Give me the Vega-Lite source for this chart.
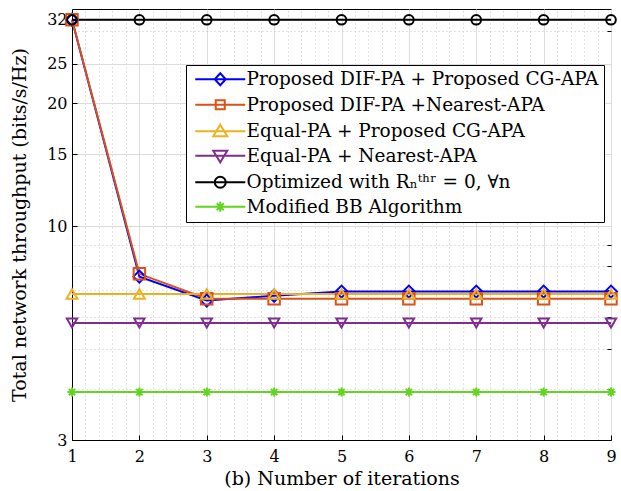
{
  "$schema": "https://vega.github.io/schema/vega-lite/v6.json",
  "width": 539,
  "height": 431,
  "autosize": "none",
  "padding": {"left": 72, "top": 9, "right": 10, "bottom": 51},
  "datasets": {
    "d": [
      {"it": 1, "series": "Proposed DIF-PA + Proposed CG-APA", "v": 32},
      {"it": 2, "series": "Proposed DIF-PA + Proposed CG-APA", "v": 7.53},
      {"it": 3, "series": "Proposed DIF-PA + Proposed CG-APA", "v": 6.58},
      {"it": 4, "series": "Proposed DIF-PA + Proposed CG-APA", "v": 6.76},
      {"it": 5, "series": "Proposed DIF-PA + Proposed CG-APA", "v": 6.92},
      {"it": 6, "series": "Proposed DIF-PA + Proposed CG-APA", "v": 6.92},
      {"it": 7, "series": "Proposed DIF-PA + Proposed CG-APA", "v": 6.92},
      {"it": 8, "series": "Proposed DIF-PA + Proposed CG-APA", "v": 6.92},
      {"it": 9, "series": "Proposed DIF-PA + Proposed CG-APA", "v": 6.92},
      {"it": 1, "series": "Proposed DIF-PA +Nearest-APA", "v": 32},
      {"it": 2, "series": "Proposed DIF-PA +Nearest-APA", "v": 7.65},
      {"it": 3, "series": "Proposed DIF-PA +Nearest-APA", "v": 6.65},
      {"it": 4, "series": "Proposed DIF-PA +Nearest-APA", "v": 6.65},
      {"it": 5, "series": "Proposed DIF-PA +Nearest-APA", "v": 6.65},
      {"it": 6, "series": "Proposed DIF-PA +Nearest-APA", "v": 6.65},
      {"it": 7, "series": "Proposed DIF-PA +Nearest-APA", "v": 6.65},
      {"it": 8, "series": "Proposed DIF-PA +Nearest-APA", "v": 6.65},
      {"it": 9, "series": "Proposed DIF-PA +Nearest-APA", "v": 6.65},
      {"it": 1, "series": "Equal-PA + Proposed CG-APA", "v": 6.83},
      {"it": 2, "series": "Equal-PA + Proposed CG-APA", "v": 6.83},
      {"it": 3, "series": "Equal-PA + Proposed CG-APA", "v": 6.83},
      {"it": 4, "series": "Equal-PA + Proposed CG-APA", "v": 6.83},
      {"it": 5, "series": "Equal-PA + Proposed CG-APA", "v": 6.83},
      {"it": 6, "series": "Equal-PA + Proposed CG-APA", "v": 6.83},
      {"it": 7, "series": "Equal-PA + Proposed CG-APA", "v": 6.83},
      {"it": 8, "series": "Equal-PA + Proposed CG-APA", "v": 6.83},
      {"it": 9, "series": "Equal-PA + Proposed CG-APA", "v": 6.83},
      {"it": 1, "series": "Equal-PA + Nearest-APA", "v": 5.8},
      {"it": 2, "series": "Equal-PA + Nearest-APA", "v": 5.8},
      {"it": 3, "series": "Equal-PA + Nearest-APA", "v": 5.8},
      {"it": 4, "series": "Equal-PA + Nearest-APA", "v": 5.8},
      {"it": 5, "series": "Equal-PA + Nearest-APA", "v": 5.8},
      {"it": 6, "series": "Equal-PA + Nearest-APA", "v": 5.8},
      {"it": 7, "series": "Equal-PA + Nearest-APA", "v": 5.8},
      {"it": 8, "series": "Equal-PA + Nearest-APA", "v": 5.8},
      {"it": 9, "series": "Equal-PA + Nearest-APA", "v": 5.8},
      {"it": 1, "series": "Optimized with Rₙᵗʰʳ = 0, ∀n", "v": 32},
      {"it": 2, "series": "Optimized with Rₙᵗʰʳ = 0, ∀n", "v": 32},
      {"it": 3, "series": "Optimized with Rₙᵗʰʳ = 0, ∀n", "v": 32},
      {"it": 4, "series": "Optimized with Rₙᵗʰʳ = 0, ∀n", "v": 32},
      {"it": 5, "series": "Optimized with Rₙᵗʰʳ = 0, ∀n", "v": 32},
      {"it": 6, "series": "Optimized with Rₙᵗʰʳ = 0, ∀n", "v": 32},
      {"it": 7, "series": "Optimized with Rₙᵗʰʳ = 0, ∀n", "v": 32},
      {"it": 8, "series": "Optimized with Rₙᵗʰʳ = 0, ∀n", "v": 32},
      {"it": 9, "series": "Optimized with Rₙᵗʰʳ = 0, ∀n", "v": 32},
      {"it": 1, "series": "Modified BB Algorithm", "v": 3.93},
      {"it": 2, "series": "Modified BB Algorithm", "v": 3.93},
      {"it": 3, "series": "Modified BB Algorithm", "v": 3.93},
      {"it": 4, "series": "Modified BB Algorithm", "v": 3.93},
      {"it": 5, "series": "Modified BB Algorithm", "v": 3.93},
      {"it": 6, "series": "Modified BB Algorithm", "v": 3.93},
      {"it": 7, "series": "Modified BB Algorithm", "v": 3.93},
      {"it": 8, "series": "Modified BB Algorithm", "v": 3.93},
      {"it": 9, "series": "Modified BB Algorithm", "v": 3.93}
    ]
  },
  "data": {"name": "d"},
  "config": {
    "font": "DejaVu Serif",
    "view": {"stroke": "black", "strokeWidth": 1},
    "axis": {
      "labelFont": "DejaVu Serif",
      "labelFontSize": 16,
      "labelColor": "black",
      "titleFont": "DejaVu Serif",
      "titleFontSize": 19,
      "titleFontWeight": "normal",
      "titleColor": "black",
      "domainColor": "black",
      "tickColor": "black",
      "labelFlush": false,
      "labelOverlap": false
    },
    "legend": {
      "orient": "none",
      "legendX": 114,
      "legendY": 56,
      "strokeColor": "black",
      "fillColor": "white",
      "padding": 5,
      "labelFont": "DejaVu Serif",
      "labelFontSize": 18.5,
      "labelColor": "black",
      "labelLimit": 0,
      "labelOffset": 37,
      "rowPadding": 5.5,
      "symbolStrokeWidth": 2,
      "symbolSize": 100
    }
  },
  "resolve": {
    "axis": {"x": "independent", "y": "independent"},
    "scale": {"color": "independent", "shape": "independent", "size": "independent"}
  },
  "layer": [
    {
      "transform": [{"filter": "false"}],
      "mark": {"type": "point", "opacity": 0},
      "encoding": {
        "x": {
          "field": "it", "type": "quantitative",
          "scale": {"domain": [1, 9], "nice": false, "zero": false},
          "axis": {
            "orient": "top",
            "values": [1.2, 1.4, 1.6, 1.8, 2.2, 2.4, 2.6, 2.8, 3.2, 3.4, 3.6, 3.8, 4.2, 4.4, 4.6, 4.8, 5.2, 5.4, 5.6, 5.8, 6.2, 6.4, 6.6, 6.8, 7.2, 7.4, 7.6, 7.8, 8.2, 8.4, 8.6, 8.8],
            "labels": false, "ticks": false, "domain": false,
            "grid": true, "gridColor": "#c4c4c4", "gridDash": [1, 3], "gridWidth": 1,
            "title": null
          }
        },
        "y": {
          "field": "v", "type": "quantitative",
          "scale": {"type": "log", "domain": [3, 34], "nice": false},
          "axis": {
            "orient": "right",
            "values": [4, 5, 6, 7, 8, 9, 30],
            "labels": false, "domain": false, "tickSize": -4,
            "grid": true, "gridColor": "#c4c4c4", "gridDash": [1, 3], "gridWidth": 1,
            "title": null
          }
        }
      }
    },
    {
      "mark": {"type": "line", "strokeWidth": 2},
      "encoding": {
        "x": {
          "field": "it", "type": "quantitative",
          "scale": {"domain": [1, 9], "nice": false, "zero": false},
          "axis": {
            "orient": "bottom",
            "values": [1, 2, 3, 4, 5, 6, 7, 8, 9],
            "format": "d",
            "labelOverlap": false,
            "labelFlush": false,
            "tickSize": -5,
            "grid": true,
            "gridColor": "#dcdcdc",
            "gridWidth": 1,
            "labelPadding": 13,
            "title": "(b) Number of iterations",
            "titlePadding": 5
          }
        },
        "y": {
          "field": "v", "type": "quantitative",
          "scale": {"type": "log", "domain": [3, 34], "nice": false},
          "axis": {
            "orient": "left",
            "values": [3, 10, 15, 20, 25, 32],
            "format": "d",
            "labelOverlap": false,
            "labelFlush": false,
            "tickSize": -5,
            "grid": true,
            "gridColor": "#dcdcdc",
            "gridWidth": 1,
            "labelPadding": 10,
            "title": "Total network throughput (bits/s/Hz)",
            "titlePadding": 17
          }
        },
        "color": {
          "field": "series", "type": "nominal",
          "scale": {
            "domain": ["Proposed DIF-PA + Proposed CG-APA", "Proposed DIF-PA +Nearest-APA", "Equal-PA + Proposed CG-APA", "Equal-PA + Nearest-APA", "Optimized with Rₙᵗʰʳ = 0, ∀n", "Modified BB Algorithm"],
            "range": ["#0000ff", "#d95319", "#edb120", "#7e2f8e", "#000000", "#62d51e"]
          },
          "legend": null
        }
      }
    },
    {
      "mark": {"type": "point", "filled": false, "strokeWidth": 2, "opacity": 1},
      "encoding": {
        "x": {"field": "it", "type": "quantitative", "scale": {"domain": [1, 9], "nice": false, "zero": false}, "axis": null},
        "y": {"field": "v", "type": "quantitative", "scale": {"type": "log", "domain": [3, 34], "nice": false}, "axis": null},
        "color": {
          "field": "series", "type": "nominal",
          "scale": {
            "domain": ["Proposed DIF-PA + Proposed CG-APA", "Proposed DIF-PA +Nearest-APA", "Equal-PA + Proposed CG-APA", "Equal-PA + Nearest-APA", "Optimized with Rₙᵗʰʳ = 0, ∀n", "Modified BB Algorithm"],
            "range": ["#0000ff", "#d95319", "#edb120", "#7e2f8e", "#000000", "#62d51e"]
          },
          "legend": null
        },
        "shape": {
          "field": "series", "type": "nominal",
          "scale": {
            "domain": ["Proposed DIF-PA + Proposed CG-APA", "Proposed DIF-PA +Nearest-APA", "Equal-PA + Proposed CG-APA", "Equal-PA + Nearest-APA", "Optimized with Rₙᵗʰʳ = 0, ∀n", "Modified BB Algorithm"],
            "range": ["diamond", "square", "triangle-up", "triangle-down", "circle", "M-1,0L1,0M0,-1L0,1M-0.7,-0.7L0.7,0.7M-0.7,0.7L0.7,-0.7"]
          },
          "legend": null
        },
        "size": {
          "field": "series", "type": "ordinal",
          "scale": {
            "domain": ["Proposed DIF-PA + Proposed CG-APA", "Proposed DIF-PA +Nearest-APA", "Equal-PA + Proposed CG-APA", "Equal-PA + Nearest-APA", "Optimized with Rₙᵗʰʳ = 0, ∀n", "Modified BB Algorithm"],
            "range": [144, 81, 180, 180, 121, 100]
          },
          "legend": null
        }
      }
    },
    {
      "transform": [{"filter": "false"}],
      "mark": {"type": "point", "filled": false, "strokeWidth": 2, "opacity": 1, "size": 100},
      "encoding": {
        "color": {
          "field": "series", "type": "nominal",
          "scale": {
            "domain": ["Proposed DIF-PA + Proposed CG-APA", "Proposed DIF-PA +Nearest-APA", "Equal-PA + Proposed CG-APA", "Equal-PA + Nearest-APA", "Optimized with Rₙᵗʰʳ = 0, ∀n", "Modified BB Algorithm"],
            "range": ["#0000ff", "#d95319", "#edb120", "#7e2f8e", "#000000", "#62d51e"]
          },
          "legend": {"title": null}
        },
        "shape": {
          "field": "series", "type": "nominal",
          "scale": {
            "domain": ["Proposed DIF-PA + Proposed CG-APA", "Proposed DIF-PA +Nearest-APA", "Equal-PA + Proposed CG-APA", "Equal-PA + Nearest-APA", "Optimized with Rₙᵗʰʳ = 0, ∀n", "Modified BB Algorithm"],
            "range": [
              "M-1,0L9,0M4,-1.2L5.1,0L4,1.2L2.9,0Z",
              "M-1,0L9,0M3.1,-0.9L4.9,-0.9L4.9,0.9L3.1,0.9Z",
              "M-1,0L9,0M4,-1.3L5.4,1L2.6,1Z",
              "M-1,0L9,0M2.6,-1L5.4,-1L4,1.3Z",
              "M-1,0L9,0M2.9,0A1.1,1.1 0 1,0 5.1,0A1.1,1.1 0 1,0 2.9,0Z",
              "M-1,0L9,0M3,0L5,0M4,-1L4,1M3.3,-0.7L4.7,0.7M3.3,0.7L4.7,-0.7"
            ]
          },
          "legend": {"title": null}
        }
      }
    }
  ]
}
